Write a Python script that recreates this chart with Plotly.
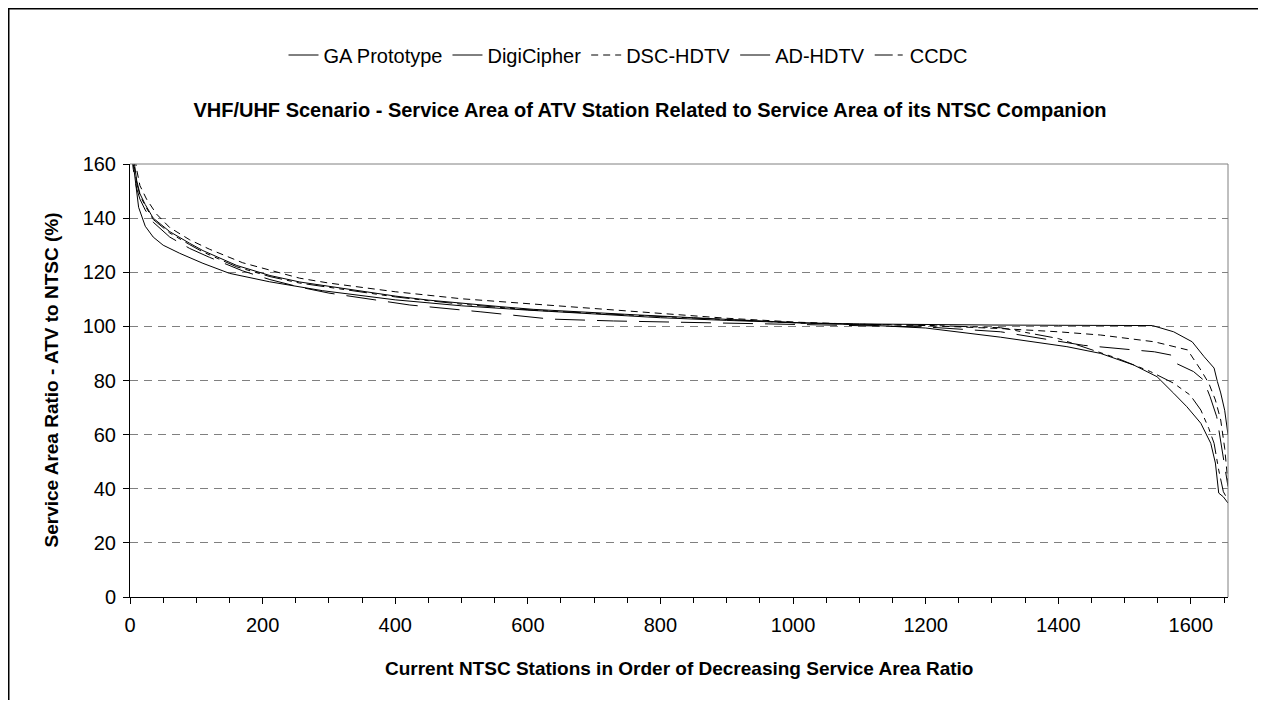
import plotly.graph_objects as go

# ---------------- data ----------------
series_names = ["GA Prototype", "DigiCipher", "DSC-HDTV", "AD-HDTV", "CCDC"]

ga_x = [0, 5, 10, 13, 23, 35, 50, 75, 110, 150, 210, 290, 400, 500, 600, 700, 800, 900,
        1000, 1100, 1200, 1313, 1413, 1464, 1514, 1549, 1574, 1594, 1615, 1630, 1637,
        1642, 1649, 1656]
ga_y = [170, 160, 150, 144, 137, 133, 130, 127, 123.3, 119.6, 116.5, 113.2, 109.8, 107.6,
        106.0, 104.6, 103.2, 102.2, 101.3, 100.6, 99.4, 96, 92.5, 90, 85.7, 81.4, 75.3,
        70.3, 64.2, 56.8, 49.5, 38.4, 37, 34.7]

digi_x = [0, 5, 10, 15, 23, 35, 60, 90, 110, 161, 211, 256, 300, 350, 400, 450, 500, 558,
          608, 700, 760, 850, 1011, 1100, 1200, 1300, 1400, 1542, 1574, 1602, 1620, 1635,
          1640, 1645, 1651, 1656]
digi_y = [172, 162, 154, 149, 145, 140, 135, 130.7, 128, 122.5, 118.8, 116.4, 114.8, 112.9,
          111.2, 109.7, 108.5, 107.3, 106.3, 105, 104.3, 103.2, 101.3, 100.9, 100.6, 100.5,
          100.4, 100.3, 98, 94.3, 88.8, 84.6, 79.6, 75.4, 69, 60]

dsc_x = [0, 5, 10, 15, 25, 40, 60, 90, 120, 170, 220, 256, 300, 400, 500, 608, 700, 800,
         900, 1011, 1100, 1200, 1313, 1400, 1464, 1545, 1595, 1615, 1627, 1637, 1645, 1651,
         1656]
dsc_y = [175, 166, 158, 152, 147, 141.5, 136.5, 132, 128.5, 123.5, 120.3, 117.8, 116,
         112.8, 110.2, 108.2, 106.5, 104.6, 103, 101.5, 100.8, 100.3, 99.2, 98, 96.8, 94.3,
         91.3, 83.9, 79, 72.8, 65.4, 55, 42]

ad_x = [0, 5, 10, 15, 23, 35, 60, 90, 120, 170, 211, 256, 300, 403, 422, 528, 608, 634,
        729, 800, 893, 1000, 1100, 1200, 1313, 1438, 1545, 1570, 1572, 1604, 1619, 1629,
        1639, 1647, 1656]
ad_y = [168, 158, 151, 147, 143, 138.5, 133, 128.8, 125.5, 120.5, 117.3, 114.5, 112.3,
        108.5, 107.9, 105.4, 103.4, 102.7, 102.0, 101.7, 101.3, 100.9, 100.4, 99.8, 98,
        93, 90.6, 89.4, 87, 83.3, 80.2, 74, 66.6, 54.3, 40.8]

ccdc_x = [0, 5, 10, 15, 23, 35, 60, 90, 110, 161, 211, 256, 300, 350, 400, 450, 500, 558,
          608, 700, 760, 850, 1011, 1100, 1200, 1313, 1400, 1489, 1539, 1574, 1599, 1615,
          1627, 1635, 1642, 1649, 1656]
ccdc_y = [171, 161, 153, 148.5, 144.5, 139.5, 134.5, 130.2, 127.5, 122, 118.4, 116,
          114.4, 112.6, 110.9, 109.5, 108.2, 107, 106, 104.8, 104.1, 103, 101.2, 100.8,
          100.4, 99.5, 95.5, 88.2, 83.3, 79, 74.6, 69.1, 62.3, 56.8, 46.9, 38.9, 35.8]

series_x = [ga_x, digi_x, dsc_x, ad_x, ccdc_x]
series_y = [ga_y, digi_y, dsc_y, ad_y, ccdc_y]

x_ticks = [0, 200, 400, 600, 800, 1000, 1200, 1400, 1600]
y_ticks = [0, 20, 40, 60, 80, 100, 120, 140, 160]

# ---------------- styling ----------------
dashes = ["solid", "solid", "7px,5px", "30px,12px", "18px,5px,5px,5px,5px,5px"]
FONT = "Arial, 'Liberation Sans', sans-serif"

# the page body adds an 8px margin; figure coordinates = screen - 8
W, H = 1250, 692
L, R, T, B = 122, 30, 156, 103
pw, ph = W - L - R, H - T - B


def fx(px):  # figure px -> paper x
    return (px - L) / pw


def fy(py):  # figure px -> paper y
    return (H - B - py) / ph


fig = go.Figure()
for name, xs, ys, d in zip(series_names, series_x, series_y, dashes):
    fig.add_trace(go.Scatter(x=xs, y=ys, name=name, mode="lines",
                             line=dict(color="black", width=1, dash=d)))

shapes = [
    # plot-area top and right borders (gray)
    dict(type="line", xref="paper", yref="paper", x0=0, x1=1, y0=1, y1=1,
         line=dict(color="#808080", width=1)),
    dict(type="line", xref="paper", yref="paper", x0=1, x1=1, y0=0, y1=1,
         line=dict(color="#808080", width=1)),
    # outer chart border (left and top edges)
    dict(type="line", xref="paper", yref="paper", x0=fx(0), x1=fx(0), y0=fy(0), y1=fy(H + 40),
         line=dict(color="black", width=3)),
    dict(type="line", xref="paper", yref="paper", x0=fx(0), x1=fx(W + 40), y0=fy(0), y1=fy(0),
         line=dict(color="black", width=3)),
]

annotations = [
    dict(text="<b>Current NTSC Stations in Order of Decreasing Service Area Ratio</b>",
         xref="paper", yref="paper", x=0.5, y=fy(660), xanchor="center", yanchor="middle",
         showarrow=False, font=dict(family=FONT, size=19, color="black")),
    dict(text="<b>Service Area Ratio - ATV to NTSC (%)</b>", textangle=-90,
         xref="paper", yref="paper", x=fx(43), y=0.5, xanchor="center", yanchor="middle",
         showarrow=False, font=dict(family=FONT, size=19, color="black")),
]

fig.update_layout(
    width=W, height=H,
    margin=dict(l=L, r=R, t=T, b=B),
    paper_bgcolor="white", plot_bgcolor="white",
    font=dict(family=FONT, size=20, color="black"),
    title=dict(text="<b>VHF/UHF Scenario - Service Area of ATV Station Related to Service Area of its NTSC Companion</b>",
               x=642 / W, xref="container", xanchor="center",
               y=1 - 102 / H, yref="container", yanchor="middle",
               font=dict(family=FONT, size=20, color="black")),
    legend=dict(orientation="h", xref="container", yref="container",
                x=620 / W, xanchor="center", y=1 - 47 / H, yanchor="middle",
                font=dict(family=FONT, size=20, color="black"),
                bgcolor="rgba(0,0,0,0)", tracegroupgap=0),
    shapes=shapes,
    annotations=annotations,
    showlegend=True,
)

fig.update_xaxes(
    range=[0, 1656], tickvals=x_ticks, ticktext=[str(v) for v in x_ticks],
    showgrid=False, zeroline=False,
    showline=True, linecolor="black", linewidth=1,
    ticks="outside", ticklen=6, tickcolor="black", tickwidth=1,
    minor=dict(dtick=50, tick0=0, ticks="outside", ticklen=5, tickcolor="black", showgrid=False),
    tickfont=dict(family=FONT, size=20), ticklabelstandoff=4,
)
fig.update_yaxes(
    range=[0, 160], tickvals=y_ticks, ticktext=[str(v) for v in y_ticks],
    showgrid=True, gridcolor="#808080", gridwidth=1, griddash="8px,6px",
    zeroline=False,
    showline=True, linecolor="black", linewidth=1,
    ticks="outside", ticklen=6, tickcolor="black", tickwidth=1,
    tickfont=dict(family=FONT, size=20), ticklabelstandoff=3,
)

# overlay axes that give the major ticks their inner half (crossing ticks)
fig.update_layout(
    xaxis2=dict(overlaying="x", anchor="y", side="bottom", range=[0, 1656],
                tickvals=x_ticks, ticks="inside", ticklen=6, tickcolor="black",
                showticklabels=False, showgrid=False, showline=False, zeroline=False),
    yaxis2=dict(overlaying="y", anchor="x", side="left", range=[0, 160],
                tickvals=y_ticks, ticks="inside", ticklen=6, tickcolor="black",
                showticklabels=False, showgrid=False, showline=False, zeroline=False),
)

fig.write_html("out.html")
